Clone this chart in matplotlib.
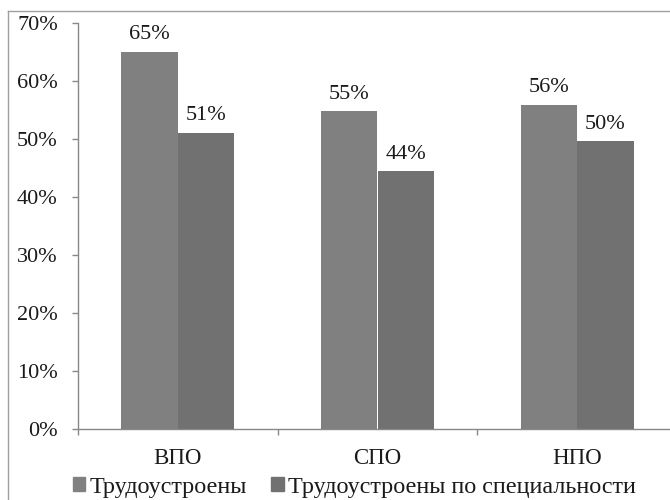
import matplotlib
matplotlib.use("Agg")
import matplotlib.pyplot as plt
from matplotlib.patches import Patch
from matplotlib.lines import Line2D
import numpy as np

categories = ["ВПО", "СПО", "НПО"]
employed = [0.65, 0.548, 0.559]
employed_specialty = [0.511, 0.444, 0.496]
series_names = ["Трудоустроены", "Трудоустроены по специальности"]
yticks = [0, 0.1, 0.2, 0.3, 0.4, 0.5, 0.6, 0.7]
ytick_labels = ["0%", "10%", "20%", "30%", "40%", "50%", "60%", "70%"]

plt.rcParams['font.family'] = ['Liberation Serif', 'DejaVu Serif']

W, H = 670, 500
fig = plt.figure(figsize=(W/100, H/100), dpi=100)
ax = fig.add_axes([78/W, 71/H, (677-78)/W, (429-23)/H])

c1, c2 = '#808080', '#717171'
txt = '#1a1a1a'
x = np.arange(len(categories))
bw = 0.283
b1 = ax.bar(x - bw/2, employed, bw, color=c1, edgecolor='none')
b2 = ax.bar(x + bw/2, employed_specialty, bw, color=c2, edgecolor='none')

for bars, vals in ((b1, employed), (b2, employed_specialty)):
    for r, v in zip(bars, vals):
        ax.annotate(f"{v*100:.0f}%", (r.get_x() + r.get_width()/2, v),
                    xytext=(0, 5.5), textcoords='offset points',
                    ha='center', va='bottom', fontsize=16, color=txt)

ax.set_xlim(-0.5, 2.5)
ax.set_ylim(0, 0.7)
ax.set_yticks(yticks)
ax.set_yticklabels(ytick_labels, fontsize=16, color=txt)
ax.set_xticks(x)
ax.set_xticklabels(categories, fontsize=16.5, color=txt)
ax.set_xticks([-0.5, 0.5, 1.5], minor=True)
ax.tick_params(axis='x', which='major', length=0, pad=14)
ax.tick_params(axis='x', which='minor', length=4, color='#888888', width=1)
ax.tick_params(axis='y', length=4.5, color='#888888', width=1, pad=10)
for s in ('top', 'right'):
    ax.spines[s].set_visible(False)
for s in ('left', 'bottom'):
    ax.spines[s].set_color('#888888')
    ax.spines[s].set_linewidth(1)

# outer chart border (cropped on right/bottom)
fig.add_artist(Line2D([8/W, 8/W], [0, 1 - 10.5/H], transform=fig.transFigure, color='#a0a0a0', lw=1))
fig.add_artist(Line2D([8/W, 1], [1 - 10.5/H, 1 - 10.5/H], transform=fig.transFigure, color='#a0a0a0', lw=1))

handles = [Patch(color=c1), Patch(color=c2)]
fig.legend(handles, series_names, loc='center left', bbox_to_anchor=(73/W, 1 - 487/H),
           ncol=2, frameon=False, fontsize=17.4, handlelength=0.5, handleheight=0.5,
           handletextpad=0.2, columnspacing=1.0, borderaxespad=0, borderpad=0,
           labelcolor=txt)

fig.savefig("out.png", dpi=100)
